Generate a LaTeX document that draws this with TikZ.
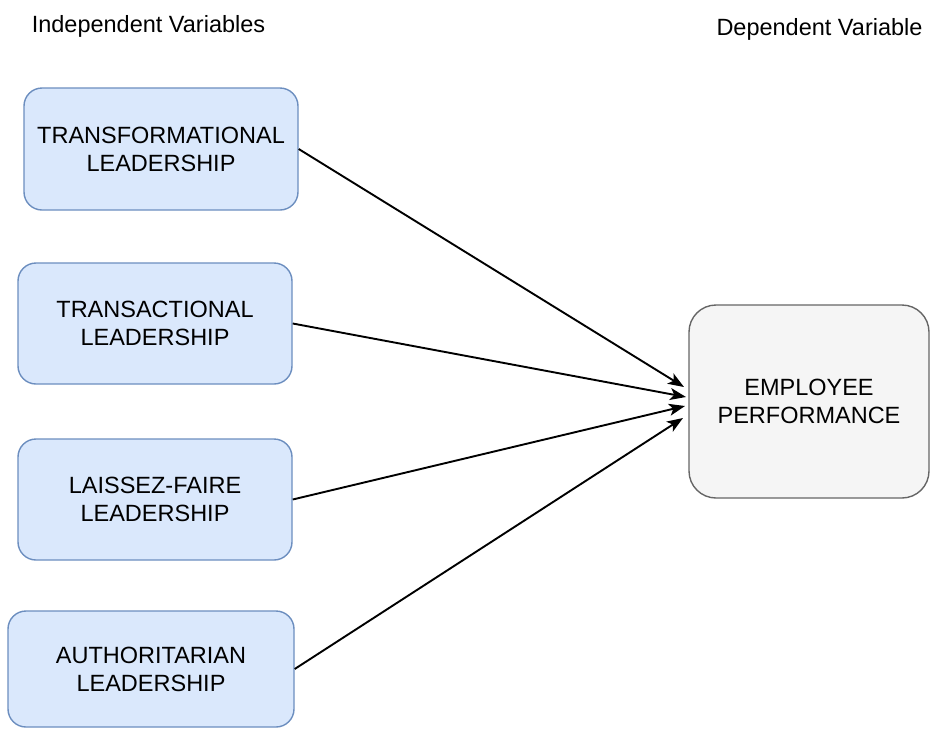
\documentclass[tikz,border=0pt]{standalone}
\usepackage{fontspec}
\setmainfont{Liberation Sans}
\usetikzlibrary{arrows.meta}
\definecolor{bluefill}{HTML}{DAE8FC}
\definecolor{bluedraw}{HTML}{6C8EBF}
\definecolor{greyfill}{HTML}{F5F5F5}
\definecolor{greydraw}{HTML}{666666}
\begin{document}
\begin{tikzpicture}[x=1pt,y=-1pt,
  every node/.style={font=\fontsize{23.5}{28}\selectfont, text=black},
  ivbox/.style={draw=bluedraw, fill=bluefill, line width=1.4pt, rounded corners=18pt, align=center, inner sep=0pt},
  dvbox/.style={draw=greydraw, fill=greyfill, line width=1.4pt, rounded corners=27pt, align=center, inner sep=0pt},
  heading/.style={inner sep=0pt},
  link/.style={line width=1.9pt, -{Stealth[length=16pt,width=12pt,inset=4pt]}}]
\useasboundingbox (0,0) rectangle (930,729);
\node[heading, anchor=base] (hiv) at (148.5,32) {Independent Variables};
\node[heading, anchor=base] (hdv) at (819.5,35) {Dependent Variable};
\node[ivbox, minimum width=274pt, minimum height=122pt] (b1) at (161,149) {TRANSFORMATIONAL\\LEADERSHIP};
\node[ivbox, minimum width=274pt, minimum height=121pt] (b2) at (155,323.5) {TRANSACTIONAL\\LEADERSHIP};
\node[ivbox, minimum width=274pt, minimum height=121pt] (b3) at (155,499.5) {LAISSEZ-FAIRE\\LEADERSHIP};
\node[ivbox, minimum width=286pt, minimum height=116pt] (b4) at (151,669) {AUTHORITARIAN\\LEADERSHIP};
\node[dvbox, minimum width=240pt, minimum height=193pt] (emp) at (809,401.5) {EMPLOYEE\\PERFORMANCE};
\coordinate (t1) at (684,387);
\coordinate (t2) at (686,397);
\coordinate (t3) at (685,406);
\coordinate (t4) at (683,418);
\draw[link] (b1.east) -- (t1);
\draw[link] (b2.east) -- (t2);
\draw[link] (b3.east) -- (t3);
\draw[link] (b4.east) -- (t4);
\end{tikzpicture}
\end{document}
